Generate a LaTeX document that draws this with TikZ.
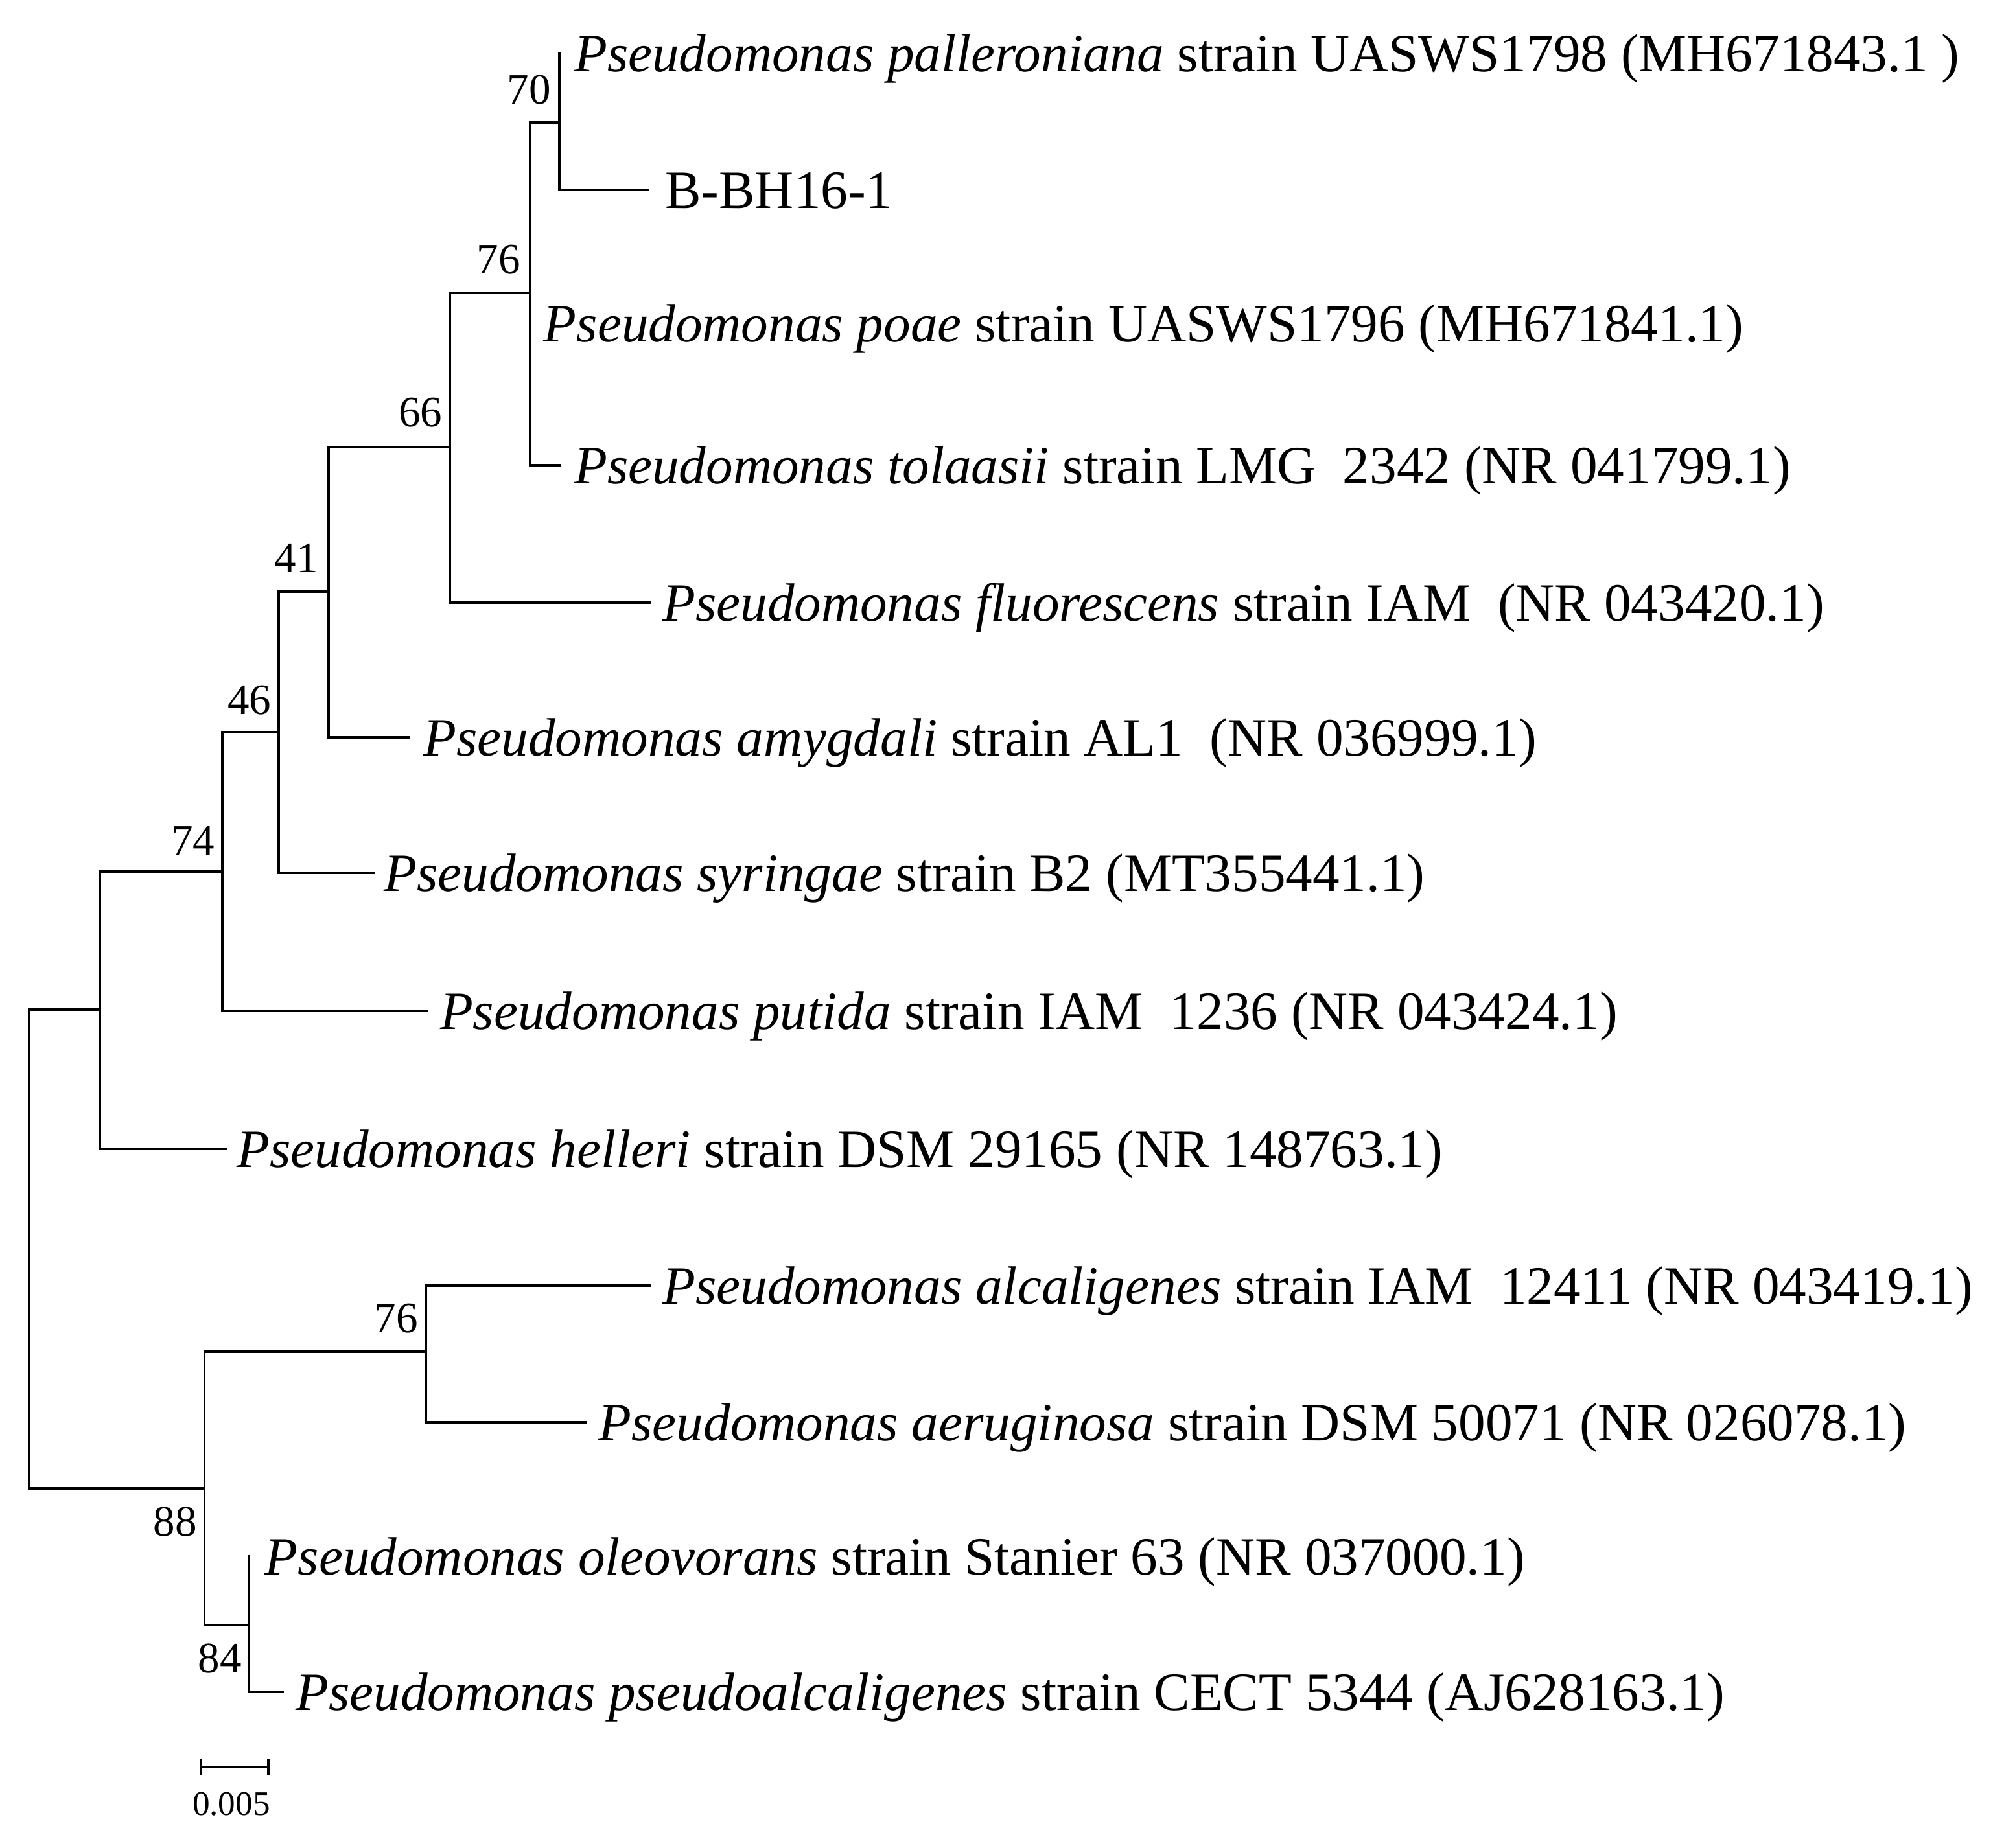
\documentclass[tikz,border=0pt]{standalone}
\usepackage{fontspec}
\setmainfont{Liberation Serif}
\begin{document}
\begin{tikzpicture}[x=0.5pt,y=-0.5pt,
  br/.style={line width=0.95pt, line cap=rect},
  tip/.style={inner sep=0pt, anchor=base west, yshift=-7.2pt, font=\fontsize{21.1}{24}\selectfont},
  boot/.style={inner sep=0pt, anchor=center, font=\fontsize{17}{19}\selectfont},
  scl/.style={inner sep=0pt, anchor=center, font=\fontsize{13.5}{15}\selectfont}]
\useasboundingbox (0,0) rectangle (1568,1446);
% internal nodes
\coordinate (root) at (23,977);
\coordinate (nH) at (78,790);
\coordinate (n74) at (174,682);
\coordinate (n46) at (218,573);
\coordinate (n41) at (257,463);
\coordinate (n66) at (352,350);
\coordinate (n76) at (415,229);
\coordinate (n70) at (437.6,96);
\coordinate (n88) at (160,1165);
\coordinate (n76b) at (333,1058);
\coordinate (n84) at (195,1272);
% leaf ends
\coordinate (lpal) at (437.6,41.4);
\coordinate (lbbh) at (507,148.5);
\coordinate (lpoa) at (415,253);
\coordinate (ltol) at (438,364);
\coordinate (lflu) at (508,471.5);
\coordinate (lamy) at (320,577);
\coordinate (lsyr) at (292,683);
\coordinate (lput) at (334,791);
\coordinate (lhel) at (177,899);
\coordinate (lalc) at (508,1006);
\coordinate (laer) at (458,1113);
\coordinate (lole) at (195,1218);
\coordinate (lpse) at (221,1324);
% branches
\draw[br] (root) |- (nH);
\draw[br] (root) |- (n88);
\draw[br] (nH) |- (n74);
\draw[br] (nH) |- (lhel);
\draw[br] (n74) |- (n46);
\draw[br] (n74) |- (lput);
\draw[br] (n46) |- (n41);
\draw[br] (n46) |- (lsyr);
\draw[br] (n41) |- (n66);
\draw[br] (n41) |- (lamy);
\draw[br] (n66) |- (n76);
\draw[br] (n66) |- (lflu);
\draw[br] (n76) |- (n70);
\draw[br] (n76) |- (lpoa);
\draw[br] (n76) |- (ltol);
\draw[br] (n70) |- (lpal);
\draw[br] (n70) |- (lbbh);
\draw[br] (n88) |- (n76b);
\draw[br] (n88) |- (n84);
\draw[br] (n76b) |- (lalc);
\draw[br] (n76b) |- (laer);
\draw[br] (n84) |- (lole);
\draw[br] (n84) |- (lpse);
% tip labels
\node[tip] (tpal) at (449,41.4) {\textit{Pseudomonas palleroniana} strain UASWS1798 (MH671843.1 )};
\node[tip] (tbbh) at (520,148.5) {B-BH16-1};
\node[tip] (tpoa) at (425,253) {\textit{Pseudomonas poae} strain UASWS1796 (MH671841.1)};
\node[tip] (ttol) at (449,364) {\textit{Pseudomonas tolaasii} strain LMG\ \ 2342 (NR 041799.1)};
\node[tip] (tflu) at (518,471.5) {\textit{Pseudomonas fluorescens} strain IAM\ \ (NR 043420.1)};
\node[tip] (tamy) at (331,577) {\textit{Pseudomonas amygdali} strain AL1\ \ (NR 036999.1)};
\node[tip] (tsyr) at (300,683) {\textit{Pseudomonas syringae} strain B2 (MT355441.1)};
\node[tip] (tput) at (344,791) {\textit{Pseudomonas putida} strain IAM\ \ 1236 (NR 043424.1)};
\node[tip] (thel) at (185,899) {\textit{Pseudomonas helleri} strain DSM 29165 (NR 148763.1)};
\node[tip] (talc) at (518,1006) {\textit{Pseudomonas alcaligenes} strain IAM\ \ 12411 (NR 043419.1)};
\node[tip] (taer) at (468,1113) {\textit{Pseudomonas aeruginosa} strain DSM 50071 (NR 026078.1)};
\node[tip] (tole) at (207,1218) {\textit{Pseudomonas oleovorans} strain Stanier 63 (NR 037000.1)};
\node[tip] (tpse) at (231,1324) {\textit{Pseudomonas pseudoalcaligenes} strain CECT 5344 (AJ628163.1)};
% bootstrap values
\node[boot] (b70) at (414,70) {70};
\node[boot] (b76) at (390,203) {76};
\node[boot] (b66) at (329,323) {66};
\node[boot] (b41) at (232,437) {41};
\node[boot] (b46) at (195,548) {46};
\node[boot] (b74) at (151,658) {74};
\node[boot] (b76b) at (310,1032) {76};
\node[boot] (b88) at (137,1191) {88};
\node[boot] (b84) at (172,1298) {84};
% scale bar
\coordinate (sb1) at (157,1383);
\coordinate (sb2) at (210,1383);
\draw[line width=0.95pt] (sb1) -- (sb2);
\draw[line width=0.95pt] ([yshift=3pt]sb1) -- ([yshift=-3pt]sb1);
\draw[line width=0.95pt] ([yshift=3pt]sb2) -- ([yshift=-3pt]sb2);
\node[scl] (slab) at (181,1412) {0.005};
\end{tikzpicture}
\end{document}
